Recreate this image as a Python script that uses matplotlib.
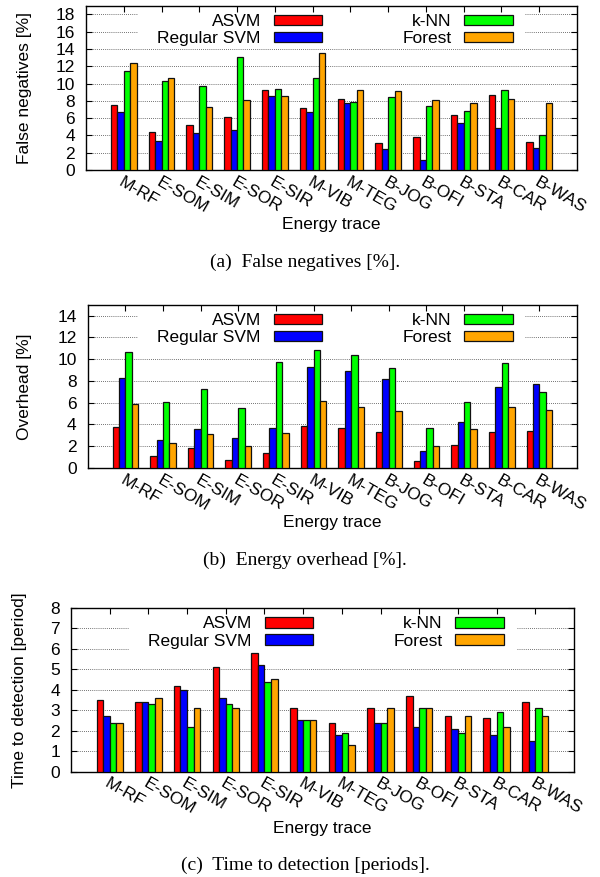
import matplotlib
matplotlib.use('Agg')
import matplotlib.pyplot as plt
import numpy as np

plt.rcParams['font.family'] = ['Liberation Sans', 'DejaVu Sans']

categories = ['M-RF', 'E-SOM', 'E-SIM', 'E-SOR', 'E-SIR', 'M-VIB', 'M-TEG',
              'B-JOG', 'B-OFI', 'B-STA', 'B-CAR', 'B-WAS']
series_names = ['ASVM', 'Regular SVM', 'k-NN', 'Forest']

fn_asvm = [7.5, 4.4, 5.2, 6.1, 9.2, 7.2, 8.2, 3.1, 3.8, 6.4, 8.7, 3.2]
fn_svm = [6.7, 3.3, 4.3, 4.6, 8.5, 6.7, 7.8, 2.4, 1.2, 5.4, 4.8, 2.5]
fn_knn = [11.4, 10.3, 9.7, 13.1, 9.4, 10.6, 7.9, 8.4, 7.4, 6.8, 9.3, 4.1]
fn_forest = [12.4, 10.6, 7.3, 8.1, 8.5, 13.5, 9.3, 9.1, 8.1, 7.7, 8.2, 7.7]

ov_asvm = [3.8, 1.1, 1.8, 0.7, 1.4, 3.9, 3.7, 3.3, 0.6, 2.1, 3.3, 3.4]
ov_svm = [8.3, 2.6, 3.6, 2.8, 3.7, 9.3, 8.9, 8.2, 1.6, 4.2, 7.4, 7.7]
ov_knn = [10.7, 6.1, 7.3, 5.5, 9.7, 10.8, 10.4, 9.2, 3.7, 6.1, 9.6, 7.0]
ov_forest = [5.9, 2.3, 3.1, 2.0, 3.2, 6.2, 5.6, 5.2, 2.0, 3.6, 5.6, 5.3]

ttd_asvm = [3.5, 3.4, 4.2, 5.1, 5.8, 3.1, 2.4, 3.1, 3.7, 2.7, 2.6, 3.4]
ttd_svm = [2.7, 3.4, 4.0, 3.6, 5.2, 2.5, 1.8, 2.4, 2.2, 2.1, 1.8, 1.5]
ttd_knn = [2.4, 3.3, 2.2, 3.3, 4.4, 2.5, 1.9, 2.4, 3.1, 1.9, 2.9, 3.1]
ttd_forest = [2.4, 3.6, 3.1, 3.1, 4.5, 2.5, 1.3, 3.1, 3.1, 2.7, 2.2, 2.7]

colors = ['#ff0000', '#0000ff', '#00ff00', '#ffa500']

W, H = 600, 877
fig = plt.figure(figsize=(W / 100, H / 100), dpi=100)

FS = 12.5


def panel(box, data, ylim, yticks, ylabel, ylabel_x, xlabel_y, caption, cap_y,
          gap, gap_levels, leg_right, leg_top):
    l, r, t, b = box
    ax = fig.add_axes([l / W, 1 - b / H, (r - l) / W, (b - t) / H])
    x = np.arange(len(categories))
    w = 0.17
    handles = []
    for i, (vals, c) in enumerate(zip(data, colors)):
        h = ax.bar(x + (i - 1.5) * w, vals, width=w, color=c, edgecolor='#111111',
                   linewidth=0.9, zorder=3)
        handles.append(h)
    ax.set_xlim(-1, 12)
    ax.set_ylim(*ylim)
    ax.set_yticks(yticks)
    ax.set_xticks(x)
    ax.set_xticklabels(categories, rotation=-30, ha='left', va='top',
                       rotation_mode='anchor', fontsize=FS)
    ax.tick_params(axis='both', direction='in', top=True, right=True,
                   length=4, width=0.8, labelsize=FS)
    ax.tick_params(axis='x', pad=3)
    ax.tick_params(axis='y', pad=8)
    for s in ax.spines.values():
        s.set_linewidth(1.0)
    # grid (dotted), interrupted behind legend
    g0 = (gap[0] - l) / (r - l)
    g1 = (gap[1] - l) / (r - l)
    for yv in yticks[1:]:
        if yv >= ylim[1]:
            continue
        if yv in gap_levels:
            ax.axhline(yv, xmin=0, xmax=g0, color='#444444', lw=0.6,
                       ls=(0, (1, 1.5)), zorder=1)
            ax.axhline(yv, xmin=g1, xmax=1, color='#444444', lw=0.6,
                       ls=(0, (1, 1.5)), zorder=1)
        else:
            ax.axhline(yv, color='#444444', lw=0.6, ls=(0, (1, 1.5)), zorder=1)
    ax.legend(handles, series_names, ncol=2, markerfirst=False,
              loc='upper right',
              bbox_to_anchor=((leg_right - l) / (r - l), (b - leg_top) / (b - t)),
              frameon=False, fontsize=FS, borderpad=0, borderaxespad=0,
              handlelength=2.8, handleheight=0.57, handletextpad=0.75,
              columnspacing=4.6, labelspacing=0.13)
    fig.text(ylabel_x / W, 1 - ((t + b) / 2) / H, ylabel, rotation=90,
             ha='center', va='center', fontsize=FS)
    fig.text(((l + r) / 2) / W, 1 - xlabel_y / H, 'Energy trace',
             ha='center', va='center', fontsize=FS)
    fig.text(305 / W, 1 - cap_y / H, caption, ha='center', va='center',
             family=['Liberation Serif', 'DejaVu Serif'], fontsize=14)
    return ax


panel((86, 577, 5.7, 170), [fn_asvm, fn_svm, fn_knn, fn_forest], (0, 19),
      list(range(0, 19, 2)), 'False negatives [%]', 25, 224,
      '(a)  False negatives [%].', 262, (137, 525), [16, 18], 513, 14)

panel((87.7, 577, 304.7, 468), [ov_asvm, ov_svm, ov_knn, ov_forest], (0, 15),
      list(range(0, 15, 2)), 'Overhead [%]', 25, 523,
      '(b)  Energy overhead [%].', 560, (138, 525), [12, 14], 513, 313)

panel((71, 574, 607.7, 771.7), [ttd_asvm, ttd_svm, ttd_knn, ttd_forest], (0, 8),
      list(range(0, 9, 1)), 'Time to detection [period]', 20, 829,
      '(c)  Time to detection [periods].', 865, (128, 517), [6, 7], 504, 616.5)

fig.savefig('out.png', dpi=100)
